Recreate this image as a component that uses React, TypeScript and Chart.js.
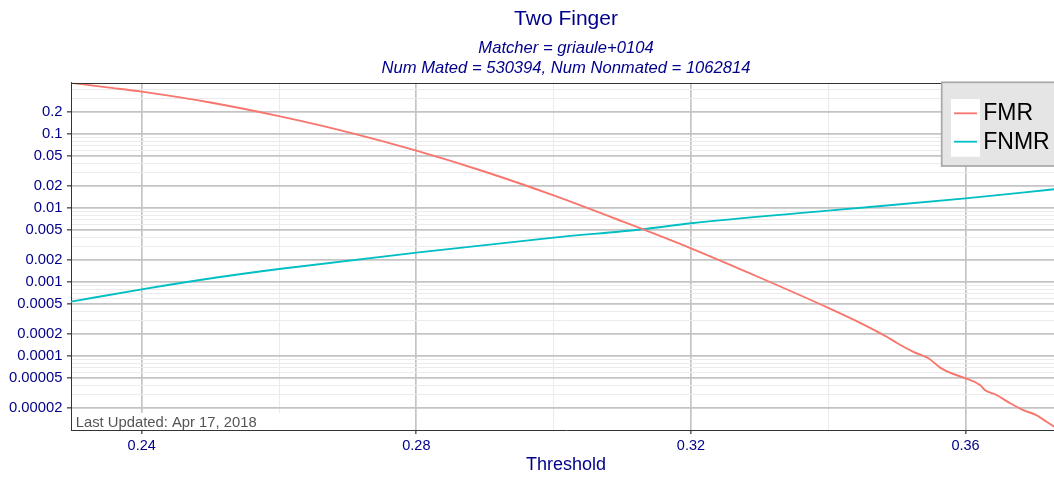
import React, { useEffect, useRef } from 'react';
import { Chart, registerables } from 'chart.js';

Chart.register(...registerables);

const FONT = "'Liberation Sans', Arial, Helvetica, sans-serif";
const TEXT_BLUE = '#00008B';

const chartTitle = 'Two Finger';
const chartSubtitle = ['Matcher = griaule+0104', 'Num Mated = 530394, Num Nonmated = 1062814'];
const xAxisTitle = 'Threshold';
const footnote = 'Last Updated: Apr 17, 2018';
const seriesNames = ['FMR', 'FNMR'];
const seriesColors = ['#F8766D', '#00BFC4'];

const fmrThreshold = [0.2297, 0.235, 0.24, 0.25, 0.26, 0.27, 0.28, 0.29, 0.3, 0.31, 0.32, 0.33, 0.34, 0.345, 0.3485, 0.35, 0.3524, 0.3546, 0.3563, 0.3577, 0.36, 0.3621, 0.3628, 0.3645, 0.3665, 0.3684, 0.3703, 0.3718, 0.3729];
const fmrValues = [0.49, 0.426, 0.373, 0.266, 0.174, 0.106, 0.0596, 0.0309, 0.0148, 0.0066, 0.00285, 0.00115, 0.000447, 0.00027, 0.000182, 0.00015, 0.000114, 0.0000931, 0.0000696, 0.0000594, 0.00005, 0.0000406, 0.0000347, 0.0000297, 0.000023, 0.0000186, 0.0000159, 0.0000129, 0.0000111];

const fnmrThreshold = [0.2297, 0.24, 0.2509, 0.26, 0.28, 0.3, 0.313, 0.32, 0.34, 0.36, 0.3729];
const fnmrValues = [0.000542, 0.000796, 0.00115, 0.0015, 0.00249, 0.00398, 0.00516, 0.00621, 0.0092, 0.0135, 0.0179];

const xMajorTicks = [0.24, 0.28, 0.32, 0.36];
const xTickLabels = ['0.24', '0.28', '0.32', '0.36'];
const xMinorTicks = [0.26, 0.3, 0.34];

const yMajorTicks = [0.00002, 0.00005, 0.0001, 0.0002, 0.0005, 0.001, 0.002, 0.005, 0.01, 0.02, 0.05, 0.1, 0.2];
const yTickLabels = ['0.00002', '0.00005', '0.0001', '0.0002', '0.0005', '0.001', '0.002', '0.005', '0.01', '0.02', '0.05', '0.1', '0.2'];
const yMinorTicks = [
  0.00003, 0.00004, 0.00006, 0.00007, 0.00008, 0.00009,
  0.0003, 0.0004, 0.0006, 0.0007, 0.0008, 0.0009,
  0.003, 0.004, 0.006, 0.007, 0.008, 0.009,
  0.03, 0.04, 0.06, 0.07, 0.08, 0.09,
  0.3, 0.4,
];

const X_MIN = 0.2297;
const X_MAX = 0.3739;
const Y_MIN = 0.00001;
const Y_MAX = 0.493;

function findLabel(v: number, ticks: number[], labels: string[]): string {
  for (let i = 0; i < ticks.length; i++) {
    if (Math.abs(ticks[i] - v) <= Math.abs(ticks[i]) * 1e-6) return labels[i];
  }
  return '';
}

const MAJOR_GRID = '#c4c4c4';
const MINOR_GRID = '#ebebeb';
const AXIS_DARK = '#333333';

const extrasPlugin = {
  id: 'extras',
  afterDraw(chart: any) {
    const { ctx, chartArea } = chart;
    const { left, top, right, bottom } = chartArea;
    ctx.save();
    // top panel border
    ctx.strokeStyle = AXIS_DARK;
    ctx.lineWidth = 1;
    ctx.beginPath();
    ctx.moveTo(left, Math.round(top) + 0.5);
    ctx.lineTo(right, Math.round(top) + 0.5);
    ctx.stroke();

    // footnote with white backing
    ctx.fillStyle = '#ffffff';
    ctx.fillRect(left + 1, bottom - 17, 229, 16.5);
    ctx.fillStyle = '#555555';
    ctx.font = `14.8px ${FONT}`;
    ctx.textAlign = 'left';
    ctx.textBaseline = 'alphabetic';
    ctx.fillText(footnote, left + 4.7, bottom - 3);

    // legend box
    const lx = right - 119.3;
    const ly = top - 0.4;
    ctx.fillStyle = '#e5e5e5';
    ctx.fillRect(lx, ly, 130, 83.7);
    ctx.strokeStyle = '#a8a8a8';
    ctx.lineWidth = 1.7;
    ctx.strokeRect(lx, ly, 130, 83.7);
    ctx.fillStyle = '#ffffff';
    ctx.fillRect(lx + 9.3, ly + 16.7, 29, 57.7);
    const rows = [ly + 31, ly + 59.4];
    chart.data.datasets.forEach((ds: any, i: number) => {
      const yy = rows[i];
      ctx.strokeStyle = ds.borderColor;
      ctx.lineWidth = 1.8;
      ctx.beginPath();
      ctx.moveTo(lx + 12.3, yy);
      ctx.lineTo(lx + 35.3, yy);
      ctx.stroke();
      ctx.fillStyle = '#000000';
      ctx.font = `23px ${FONT}`;
      ctx.textBaseline = 'middle';
      ctx.textAlign = 'left';
      ctx.fillText(ds.label, lx + 41.6, yy + 0.6);
    });
    ctx.restore();
  },
};

export default function App() {
  const canvasRef = useRef<HTMLCanvasElement | null>(null);

  useEffect(() => {
    const canvas = canvasRef.current;
    if (!canvas) return;
    const chart = new Chart(canvas, {
      type: 'line',
      data: {
        datasets: [
          {
            label: seriesNames[0],
            data: fmrThreshold.map((x, i) => ({ x, y: fmrValues[i] })),
            borderColor: seriesColors[0],
            backgroundColor: seriesColors[0],
            borderWidth: 1.9,
            pointRadius: 0,
            cubicInterpolationMode: 'monotone',
            fill: false,
          },
          {
            label: seriesNames[1],
            data: fnmrThreshold.map((x, i) => ({ x, y: fnmrValues[i] })),
            borderColor: seriesColors[1],
            backgroundColor: seriesColors[1],
            borderWidth: 1.9,
            pointRadius: 0,
            cubicInterpolationMode: 'monotone',
            fill: false,
          },
        ],
      },
      options: {
        responsive: false,
        animation: false,
        devicePixelRatio: 1,
        layout: { padding: { left: 0, right: 1, top: 0, bottom: 0 } },
        plugins: {
          legend: { display: false },
          tooltip: { enabled: false },
          title: {
            display: true,
            text: chartTitle,
            fullSize: false,
            color: TEXT_BLUE,
            font: { family: FONT, size: 21, weight: 'normal', lineHeight: 1.2 },
            padding: { top: 6.4, bottom: 4 },
          },
          subtitle: {
            display: true,
            text: chartSubtitle,
            fullSize: false,
            color: TEXT_BLUE,
            font: { family: FONT, size: 16.6, style: 'italic', weight: 'normal', lineHeight: 1.205 },
            padding: { top: 2.9, bottom: 4.2 },
          },
        },
        scales: {
          x: {
            type: 'linear',
            min: X_MIN,
            max: X_MAX,
            afterBuildTicks: (scale: any) => {
              scale.ticks = [...xMajorTicks, ...xMinorTicks]
                .sort((a, b) => a - b)
                .map((v) => ({ value: v }));
            },
            afterFit: (scale: any) => {
              scale.height = 48;
            },
            ticks: {
              autoSkip: false,
              maxRotation: 0,
              color: TEXT_BLUE,
              font: { family: FONT, size: 14.5 },
              padding: 3.5,
              callback: (v: any) => findLabel(Number(v), xMajorTicks, xTickLabels),
            },
            grid: {
              color: (c: any) => (c.tick && c.tick.label ? MAJOR_GRID : MINOR_GRID),
              lineWidth: (c: any) => (c.tick && c.tick.label ? 1.7 : 1),
              tickColor: (c: any) => (c.tick && c.tick.label ? AXIS_DARK : 'rgba(0,0,0,0)'),
              tickLength: 4,
              tickWidth: 1.2,
              drawTicks: true,
            },
            border: { display: true, color: AXIS_DARK, width: 1 },
            title: {
              display: true,
              text: xAxisTitle,
              color: TEXT_BLUE,
              font: { family: FONT, size: 18 },
              padding: { top: 2, bottom: 2.5 },
            },
          },
          y: {
            type: 'logarithmic',
            min: Y_MIN,
            max: Y_MAX,
            afterBuildTicks: (scale: any) => {
              scale.ticks = [...yMajorTicks, ...yMinorTicks]
                .sort((a, b) => a - b)
                .map((v) => ({ value: v }));
            },
            afterFit: (scale: any) => {
              scale.width = 71;
            },
            ticks: {
              autoSkip: false,
              color: TEXT_BLUE,
              font: { family: FONT, size: 14.8 },
              padding: 4.5,
              callback: (v: any) => findLabel(Number(v), yMajorTicks, yTickLabels),
            },
            grid: {
              color: (c: any) => (c.tick && c.tick.label ? MAJOR_GRID : MINOR_GRID),
              lineWidth: (c: any) => (c.tick && c.tick.label ? 1.7 : 1),
              tickColor: (c: any) => (c.tick && c.tick.label ? AXIS_DARK : 'rgba(0,0,0,0)'),
              tickLength: 4,
              tickWidth: 1.2,
              drawTicks: true,
            },
            border: { display: true, color: AXIS_DARK, width: 1 },
          },
        },
      } as any,
      plugins: [extrasPlugin],
    });
    return () => {
      chart.destroy();
    };
  }, []);

  return (
    <div
      style={{
        position: 'fixed',
        left: 0,
        top: 0,
        width: 1054,
        height: 478,
        overflow: 'hidden',
        background: '#ffffff',
      }}
    >
      <canvas ref={canvasRef} width={1062} height={478} style={{ width: 1062, height: 478, display: 'block' }} />
    </div>
  );
}
